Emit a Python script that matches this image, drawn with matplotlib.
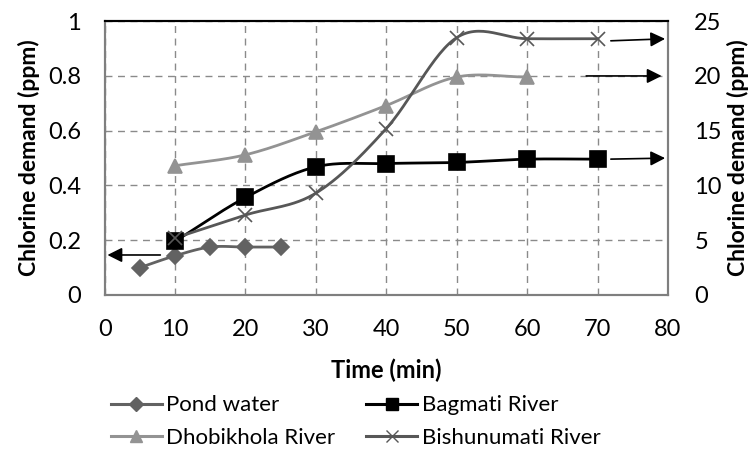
import numpy as np
from matplotlib import pyplot as plt

# data
pond_t = [5, 10, 15, 20, 25]
pond_ppm = [0.10, 0.143, 0.175, 0.175, 0.175]          # left axis

bagmati_t = [10, 20, 30, 40, 50, 60, 70]
bagmati_ppm = [4.9, 8.9, 11.7, 12.0, 12.1, 12.4, 12.4]  # right axis

dhobi_t = [10, 20, 30, 40, 50, 60]
dhobi_ppm = [11.8, 12.8, 14.9, 17.3, 19.9, 19.9]       # right axis

bishnu_t = [10, 20, 30, 40, 50, 60, 70]
bishnu_ppm = [5.2, 7.3, 9.3, 15.2, 23.5, 23.4, 23.4]   # right axis

x_ticks = [0, 10, 20, 30, 40, 50, 60, 70, 80]
left_ticks = [0, 0.2, 0.4, 0.6, 0.8, 1]
right_ticks = [0, 5, 10, 15, 20, 25]


def smooth(x, y, n=30):
    """Catmull-Rom curve through the points, like Excel's smoothed line."""
    x = np.asarray(x, float)
    y = np.asarray(y, float)
    px = np.concatenate([[2 * x[0] - x[1]], x, [2 * x[-1] - x[-2]]])
    py = np.concatenate([[2 * y[0] - y[1]], y, [2 * y[-1] - y[-2]]])
    xs, ys = [], []
    t = np.linspace(0, 1, n)
    for i in range(1, len(px) - 2):
        for p, out in ((px, xs), (py, ys)):
            p0, p1, p2, p3 = p[i - 1], p[i], p[i + 1], p[i + 2]
            out.extend(0.5 * (2 * p1 + (-p0 + p2) * t
                              + (2 * p0 - 5 * p1 + 4 * p2 - p3) * t ** 2
                              + (-p0 + 3 * p1 - 3 * p2 + p3) * t ** 3))
    return np.array(xs), np.array(ys)


def series(ax, x, y, color, marker, ms, label):
    sx, sy = smooth(x, y)
    ax.plot(sx, sy, color=color, lw=2.0, zorder=3)
    ax.plot(x, y, ls='none', marker=marker, ms=ms, color=color,
            mec=color, mew=1.2, zorder=4)
    # legend proxy
    return plt.Line2D([], [], color=color, lw=2.2, marker=marker, ms=ms * 0.85,
                      mec=color, label=label)


plt.rcParams['font.family'] = ['Lato', 'DejaVu Sans']

fig = plt.figure(figsize=(7.53, 4.51), dpi=100)
ax = fig.add_axes([0.139, 0.346, 0.748, 0.607])
ax2 = ax.twinx()

pond_c = '#626262'
dhobi_c = '#939393'
bishnu_c = '#575757'

h_pond = series(ax, pond_t, pond_ppm, pond_c, 'D', 8, 'Pond water')
h_dhobi = series(ax2, dhobi_t, dhobi_ppm, dhobi_c, '^', 10, 'Dhobikhola River')
h_bag = series(ax2, bagmati_t, bagmati_ppm, 'black', 's', 11, 'Bagmati River')
h_bish = series(ax2, bishnu_t, bishnu_ppm, bishnu_c, 'x', 10, 'Bishunumati River')

ax.set_xlim(0, 80)
ax.set_ylim(0, 1)
ax2.set_ylim(0, 25)
ax.set_xticks(x_ticks)
ax.set_yticks(left_ticks)
ax.set_yticklabels(['0', '0.2', '0.4', '0.6', '0.8', '1'])
ax2.set_yticks(right_ticks)
ax.grid(True, ls=(0, (5, 4)), color='#8a8a8a', lw=1.0)
ax.tick_params(axis='y', length=0, labelsize=17, pad=17)
ax.tick_params(axis='x', length=0, labelsize=17, pad=17)
ax2.tick_params(length=0, labelsize=17, pad=19)

for a in (ax, ax2):
    for side in ('left', 'right', 'bottom'):
        a.spines[side].set_color('#7f7f7f')
        a.spines[side].set_linewidth(1.5)
    a.spines['top'].set_color('black')
    a.spines['top'].set_linewidth(1.5)

ax.set_xlabel('Time (min)', fontsize=17, fontweight='bold', labelpad=14)
ax.set_ylabel('Chlorine demand (ppm)', fontsize=16.5, fontweight='bold', labelpad=6)
ax2.set_ylabel('Chlorine demand (ppm)', fontsize=16.5, fontweight='bold', labelpad=4)

arrow = dict(arrowstyle='-|>', color='black', lw=1.2, mutation_scale=22)
ax.annotate('', xy=(0, 0.146), xytext=(8.3, 0.146), arrowprops=arrow)
ax2.annotate('', xy=(80, 23.4), xytext=(71.5, 23.2), arrowprops=arrow)
ax2.annotate('', xy=(79.5, 20.0), xytext=(68, 20.0), arrowprops=arrow)
ax2.annotate('', xy=(80, 12.5), xytext=(71.5, 12.4), arrowprops=arrow)

fig.legend(handles=[h_pond, h_dhobi, h_bag, h_bish], ncol=2, loc='lower left',
           bbox_to_anchor=(0.135, -0.012), frameon=False, fontsize=16,
           handlelength=2.3, handletextpad=0.2, columnspacing=1.4,
           labelspacing=0.55, borderaxespad=0)

fig.savefig('out.png', dpi=100)
